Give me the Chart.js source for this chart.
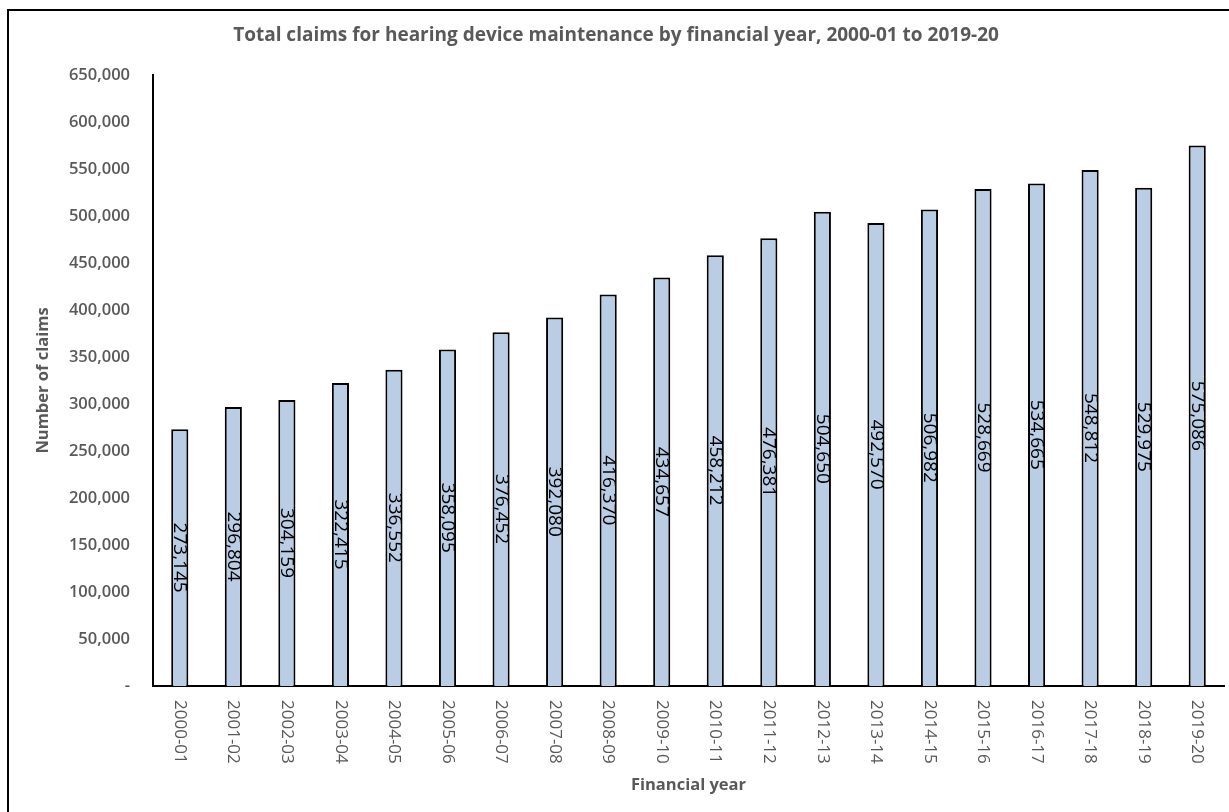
<!DOCTYPE html>
<html>
<head>
<meta charset="utf-8">
<script src="https://cdn.jsdelivr.net/npm/chart.js@4.4.0/dist/chart.umd.min.js"></script>
<style>
  html, body { margin: 0; padding: 0; background: #fff; }
  #wrap { width: 1229px; height: 812px; position: relative; }
</style>
</head>
<body>
<div id="wrap"><canvas id="myChart" width="1229" height="812"></canvas></div>
<script>
const years = ["2000-01", "2001-02", "2002-03", "2003-04", "2004-05", "2005-06", "2006-07",
  "2007-08", "2008-09", "2009-10", "2010-11", "2011-12", "2012-13", "2013-14", "2014-15",
  "2015-16", "2016-17", "2017-18", "2018-19", "2019-20"];
const claims = [273145, 296804, 304159, 322415, 336552, 358095, 376452, 392080, 416370, 434657,
  458212, 476381, 504650, 492570, 506982, 528669, 534665, 548812, 529975, 575086];
const yTicks = [0, 50000, 100000, 150000, 200000, 250000, 300000, 350000, 400000, 450000,
  500000, 550000, 600000, 650000];

const grey = "#595959";
const fontFamily = "'Open Sans', sans-serif";
const fmt = (v) => v.toLocaleString("en-US");

// frame, title, rotated category labels and bar labels
const extras = {
  id: "extras",
  afterDraw(chart) {
    const c = chart.ctx;
    const xs = chart.scales.x;
    const area = chart.chartArea;
    c.save();
    c.strokeStyle = "#000";
    c.lineWidth = 2;
    c.strokeRect(8, 10, 1240, 820);

    c.fillStyle = grey;
    c.font = "bold 19px " + fontFamily;
    c.textAlign = "center";
    c.textBaseline = "middle";
    c.fillText("Total claims for hearing device maintenance by financial year, 2000-01 to 2019-20", 616, 36);

    c.font = "17px " + fontFamily;
    years.forEach((y, i) => {
      c.save();
      c.translate(xs.getPixelForValue(i), area.bottom + 14);
      c.rotate(Math.PI / 2);
      c.textAlign = "left";
      c.textBaseline = "middle";
      c.fillText(y, 0, 0);
      c.restore();
    });

    c.fillStyle = "#000";
    c.font = "19px " + fontFamily;
    const meta = chart.getDatasetMeta(0);
    meta.data.forEach((bar, i) => {
      c.save();
      c.translate(bar.x, (bar.y + bar.base) / 2);
      c.rotate(Math.PI / 2);
      c.textAlign = "center";
      c.textBaseline = "middle";
      c.fillText(fmt(claims[i]), 0, 0);
      c.restore();
    });
    c.restore();
  },
};

const ctx = document.getElementById("myChart").getContext("2d");
const myChart = new Chart(ctx, {
  type: "bar",
  data: {
    labels: years,
    datasets: [
      {
        label: "Claims",
        data: claims,
        backgroundColor: "#B9CDE5",
        borderColor: "#000",
        borderWidth: 2,
        barPercentage: 0.32,
        categoryPercentage: 1,
      },
    ],
  },
  options: {
    responsive: false,
    animation: false,
    layout: { padding: { top: 75, right: 5, left: 0, bottom: 0 } },
    plugins: {
      legend: { display: false },
      title: { display: false },
      tooltip: { enabled: false },
    },
    scales: {
      x: {
        grid: { display: false },
        border: { display: true, color: "#000", width: 2 },
        ticks: { display: false },
        title: {
          display: true,
          text: "Financial year",
          color: grey,
          font: { family: fontFamily, size: 16.5, weight: "bold" },
          padding: { top: 0, bottom: 17 },
        },
        afterFit: (scale) => {
          scale.height = 126;
        },
      },
      y: {
        min: 0,
        max: 650000,
        afterBuildTicks: (scale) => {
          scale.ticks = yTicks.map((v) => ({ value: v }));
        },
        grid: { display: false, drawTicks: false },
        border: { display: true, color: "#000", width: 2 },
        ticks: {
          color: grey,
          padding: 23,
          font: { family: fontFamily, size: 16.5, weight: 600 },
          callback: (v) => (v === 0 ? "-" : fmt(v)),
        },
        title: {
          display: true,
          text: "Number of claims",
          color: grey,
          font: { family: fontFamily, size: 16.5, weight: "bold" },
          padding: { top: 33, bottom: 0 },
        },
        afterFit: (scale) => {
          scale.width = 153;
        },
      },
    },
  },
  plugins: [extras],
});
</script>
</body>
</html>
